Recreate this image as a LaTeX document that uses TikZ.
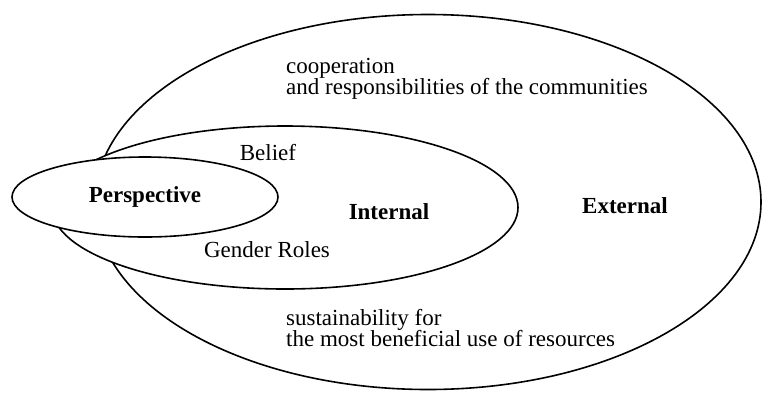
\documentclass[tikz,border=0pt]{standalone}
\usepackage{fontspec}
\setmainfont{Liberation Serif}
\usepackage{tikz}
\usetikzlibrary{shapes.geometric,positioning}

\begin{document}
\begin{tikzpicture}[x=1pt,y=-1pt,
    font=\fontsize{23}{21.5}\selectfont,
    zone/.style={draw,ellipse,fill=white,line width=1.6pt,inner sep=0pt,outer sep=0pt},
    label/.style={inner sep=0pt,align=left}]
  \useasboundingbox (0,0) rectangle (763,392);
  % outer ring first, inner ones painted over it
  \node[zone,minimum width=666pt,minimum height=375pt] (external) at (428,202) {};
  \node[zone,minimum width=466pt,minimum height=163pt] (internal) at (285,207.5) {};
  \node[zone,minimum width=266pt,minimum height=80pt] (perspective) at (145,197)
    {\textbf{Perspective}};
  \node[label] (ext) at (625,206) {\textbf{External}};
  \node[label] (int) at (389,212) {\textbf{Internal}};
  \node[label] (belief) at (268,153) {Belief};
  \node[label] (gender) at (267,250) {Gender Roles};
  \node[label,anchor=west] (coop) at (286,79)
    {cooperation\\and responsibilities of the communities};
  \node[label,anchor=west] (sust) at (286,328)
    {sustainability for\\the most beneficial use of resources};
\end{tikzpicture}
\end{document}
